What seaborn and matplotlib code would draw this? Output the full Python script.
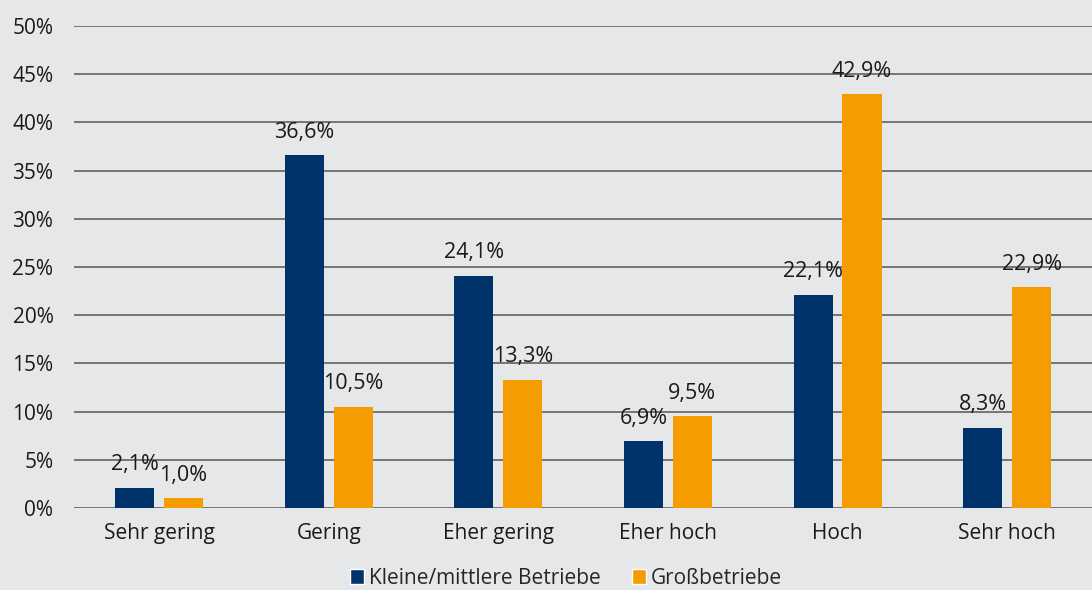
import matplotlib
matplotlib.use("Agg")
import matplotlib.pyplot as plt
import seaborn as sns
import pandas as pd
from matplotlib.patches import Patch

categories = ["Sehr gering", "Gering", "Eher gering", "Eher hoch", "Hoch", "Sehr hoch"]
series_names = ["Kleine/mittlere Betriebe", "Großbetriebe"]
kmu_values = [2.1, 36.6, 24.1, 6.9, 22.1, 8.3]
gross_values = [1.0, 10.5, 13.3, 9.5, 42.9, 22.9]
y_ticks = [0, 5, 10, 15, 20, 25, 30, 35, 40, 45, 50]

navy = "#00336a"
orange = "#f59c00"
bg = "#e6e7e9"
grid = "#6b6b6b"
txt = "#1a1a1a"

df = pd.DataFrame({
    "Kategorie": categories * 2,
    "Reihe": [series_names[0]] * len(categories) + [series_names[1]] * len(categories),
    "Wert": kmu_values + gross_values,
})

sns.set_theme(style="white")
plt.rcParams["font.family"] = ["Open Sans", "DejaVu Sans"]

fig = plt.figure(figsize=(10.92, 5.90), dpi=100, facecolor=bg)
ax = fig.add_axes([0.068, 0.139, 0.932, 0.817])
ax.set_facecolor(bg)

sns.barplot(data=df, x="Kategorie", y="Wert", hue="Reihe", order=categories,
            hue_order=series_names, palette=[navy, orange], width=0.576, gap=0.2,
            saturation=1, ax=ax, legend=False, errorbar=None, linewidth=0,
            edgecolor="none")

ax.set_xlim(-0.5, len(categories) - 0.5)
ax.set_ylim(0, 50)
ax.set_yticks(y_ticks)
ax.set_yticklabels([f"{t}%" for t in y_ticks], fontsize=15, color=txt)
ax.tick_params(axis="x", labelsize=15, colors=txt, length=0, pad=11)
ax.tick_params(axis="y", length=0, pad=15)
for t in y_ticks:
    ax.axhline(t, color=grid, lw=1.3, zorder=0)
ax.set_xlabel("")
ax.set_ylabel("")
for s in ax.spines.values():
    s.set_visible(False)

for cont in ax.containers:
    for bar in cont:
        h = bar.get_height()
        ax.annotate(f"{h:.1f}%".replace(".", ","),
                    (bar.get_x() + bar.get_width() / 2, h),
                    xytext=(0, 9), textcoords="offset points",
                    ha="center", va="bottom", fontsize=15.5, color=txt)

handles = [Patch(facecolor=navy), Patch(facecolor=orange)]
fig.legend(handles, series_names, loc="lower center", bbox_to_anchor=(0.518, -0.03),
           ncol=2, frameon=False, fontsize=15, handlelength=0.7, handleheight=0.7,
           handletextpad=0.2, columnspacing=1.5)

fig.savefig("out.png", dpi=100, facecolor=bg)
